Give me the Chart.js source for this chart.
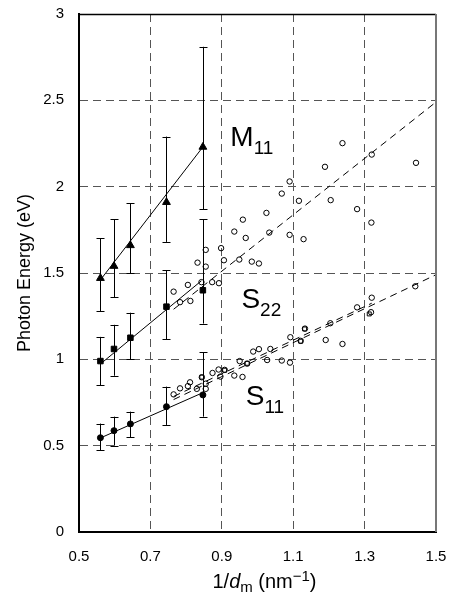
<!DOCTYPE html>
<html>
<head>
<meta charset="utf-8">
<title>Photon energy vs 1/dm</title>
<script src="https://cdn.jsdelivr.net/npm/chart.js@4.4.1/dist/chart.umd.min.js"></script>
<style>
  html, body { margin: 0; padding: 0; background: #fff; }
  #wrap { width: 454px; height: 593px; position: relative; }
</style>
</head>
<body>
<div id="wrap"><canvas id="chart"></canvas></div>
<script>
// axis ticks
const xTicks = [0.5, 0.7, 0.9, 1.1, 1.3, 1.5];
const yTicks = [0, 0.5, 1, 1.5, 2, 2.5, 3];

// measured points with error bars (filled markers)
const xMeas = [0.560, 0.598, 0.644, 0.745, 0.847];
const m11 = [1.47, 1.54, 1.66, 1.91, 2.23];
const m11Hi = [1.70, 1.81, 1.905, 2.29, 2.81];
const m11Lo = [1.28, 1.36, 1.50, 1.68, 1.87];
const s22 = [0.99, 1.06, 1.125, 1.305, 1.40];
const s22Hi = [1.13, 1.20, 1.27, 1.515, 1.81];
const s22Lo = [0.85, 0.905, 1.00, 1.117, 1.207];
const s11 = [0.546, 0.587, 0.626, 0.726, 0.794];
const s11Hi = [0.628, 0.668, 0.697, 0.842, 1.04];
const s11Lo = [0.474, 0.50, 0.549, 0.62, 0.668];

// solid fit lines through the filled markers
const m11FitX = [0.560, 0.847];
const m11FitY = [1.46, 2.23];
const s22FitX = [0.560, 0.843];
const s22FitY = [0.973, 1.455];
const s11FitX = [0.555, 0.847];
const s11FitY = [0.54, 0.807];

// dashed lines
const upperDashX = [0.765, 1.5];
const upperDashY = [1.29, 2.49];
const lowerDashAX = [0.765, 1.5];
const lowerDashAY = [0.767, 1.49];
const lowerDashBX = [0.765, 1.32];
const lowerDashBY = [0.785, 1.325];

// open circles, upper group
const upX = [0.765, 0.783, 0.805, 0.812, 0.832, 0.843, 0.855, 0.855, 0.873, 0.892, 0.898, 0.906, 0.935, 0.949, 0.959, 0.967,
  0.984, 1.004, 1.025, 1.033, 1.068, 1.090, 1.090, 1.116, 1.129, 1.189, 1.205, 1.238, 1.279, 1.319, 1.320, 1.444];
const upY = [1.392, 1.331, 1.431, 1.338, 1.560, 1.447, 1.634, 1.537, 1.447, 1.441, 1.644, 1.574, 1.740, 1.578, 1.809, 1.703,
  1.566, 1.555, 1.848, 1.734, 1.960, 2.030, 1.721, 1.918, 1.696, 2.115, 1.922, 2.252, 1.870, 1.792, 2.186, 2.138];

// open circles, lower group
const loX = [0.765, 0.783, 0.805, 0.811, 0.830, 0.855, 0.855, 0.844, 0.874, 0.891, 0.908, 0.896, 0.935, 0.958, 0.950, 0.971,
  0.988, 1.004, 1.027, 1.036, 1.068, 1.091, 1.092, 1.121, 1.133, 1.191, 1.204, 1.238, 1.279, 1.320, 1.318, 1.442];
const loY = [0.797, 0.832, 0.845, 0.867, 0.829, 0.829, 0.859, 0.896, 0.921, 0.941, 0.939, 0.900, 0.906, 0.898, 0.990, 0.975,
  1.045, 1.059, 0.996, 1.060, 0.993, 0.981, 1.128, 1.107, 1.178, 1.112, 1.209, 1.089, 1.301, 1.357, 1.273, 1.423];

// open squares hidden under some circles
const sqX = [0.844, 0.908, 0.971, 1.121, 1.132, 1.313];
const sqY = [0.897, 0.937, 0.977, 1.105, 1.176, 1.263];

const FONT = '"Liberation Sans", Arial, sans-serif';

function pts(xs, ys) {
  return xs.map((v, i) => ({ x: v, y: ys[i] }));
}

function lineSet(xs, ys, dash) {
  return {
    data: pts(xs, ys), showLine: true, pointRadius: 0,
    borderColor: '#000', borderWidth: 1, borderDash: dash || [], order: 5
  };
}

// error bars drawn with the chart's own scales
const errorBars = {
  id: 'errorBars',
  afterDatasetsDraw(chart) {
    const { ctx, scales: { x, y } } = chart;
    ctx.save();
    ctx.strokeStyle = '#000';
    ctx.lineWidth = 1;
    [[m11Hi, m11Lo], [s22Hi, s22Lo], [s11Hi, s11Lo]].forEach(([hi, lo]) => {
      xMeas.forEach((v, i) => {
        const px = Math.round(x.getPixelForValue(v)) + 0.5;
        const top = y.getPixelForValue(hi[i]);
        const bot = y.getPixelForValue(lo[i]);
        ctx.beginPath();
        ctx.moveTo(px, top); ctx.lineTo(px, bot);
        ctx.moveTo(px - 4, Math.round(top) + 0.5); ctx.lineTo(px + 4, Math.round(top) + 0.5);
        ctx.moveTo(px - 4, Math.round(bot) + 0.5); ctx.lineTo(px + 4, Math.round(bot) + 0.5);
        ctx.stroke();
      });
    });
    ctx.restore();
  }
};

// draw a run of text pieces (normal / italic / sub / sup)
function drawRich(ctx, parts, x, y) {
  let cx = x;
  parts.forEach(p => {
    ctx.font = (p.italic ? 'italic ' : '') + p.size + 'px ' + FONT;
    ctx.fillText(p.t, cx, y + (p.dy || 0));
    cx += ctx.measureText(p.t).width;
  });
}
function richWidth(ctx, parts) {
  let w = 0;
  parts.forEach(p => {
    ctx.font = (p.italic ? 'italic ' : '') + p.size + 'px ' + FONT;
    w += ctx.measureText(p.t).width;
  });
  return w;
}

const bandLabels = [
  { x: 0.924, y: 2.238, main: 'M', sub: '11' },
  { x: 0.955, y: 1.300, main: 'S', sub: '22' },
  { x: 0.967, y: 0.736, main: 'S', sub: '11' }
];

const extras = {
  id: 'extras',
  afterDraw(chart) {
    const { ctx, chartArea: a, scales: { x, y } } = chart;
    ctx.save();
    // top and right frame
    ctx.setLineDash([]);
    ctx.strokeStyle = '#000';
    ctx.lineWidth = 1.5;
    ctx.beginPath();
    ctx.moveTo(a.left, a.top + 0.5); ctx.lineTo(a.right, a.top + 0.5);
    ctx.stroke();
    ctx.strokeStyle = '#777';
    ctx.lineWidth = 2;
    ctx.beginPath();
    ctx.moveTo(a.right, a.top); ctx.lineTo(a.right, a.bottom);
    ctx.stroke();

    ctx.fillStyle = '#000';
    ctx.textBaseline = 'alphabetic';
    ctx.textAlign = 'left';
    bandLabels.forEach(l => {
      drawRich(ctx, [
        { t: l.main, size: 28 },
        { t: l.sub, size: 19, dy: 8 }
      ], x.getPixelForValue(l.x), y.getPixelForValue(l.y));
    });

    // x axis title with italic d, subscript m, superscript -1
    const title = [
      { t: '1/', size: 20 },
      { t: 'd', size: 20, italic: true },
      { t: 'm', size: 15, dy: 4 },
      { t: ' (nm', size: 20 },
      { t: '\u22121', size: 15, dy: -7 },
      { t: ')', size: 20 }
    ];
    const w = richWidth(ctx, title);
    drawRich(ctx, title, (a.left + a.right) / 2 + 7 - w / 2, 588);
    ctx.restore();
  }
};

new Chart(document.getElementById('chart'), {
  type: 'scatter',
  data: {
    datasets: [
      { data: pts(xMeas, m11), pointStyle: 'triangle', pointRadius: 4.5, backgroundColor: '#000', borderColor: '#000', borderWidth: 1, order: 1 },
      { data: pts(xMeas, s22), pointStyle: 'rect', pointRadius: 3.9, backgroundColor: '#000', borderColor: '#000', borderWidth: 1, order: 1 },
      { data: pts(xMeas, s11), pointStyle: 'circle', pointRadius: 3, backgroundColor: '#000', borderColor: '#000', borderWidth: 1, order: 1 },
      lineSet(m11FitX, m11FitY),
      lineSet(s22FitX, s22FitY),
      lineSet(s11FitX, s11FitY),
      lineSet(upperDashX, upperDashY, [7, 5]),
      lineSet(lowerDashAX, lowerDashAY, [7, 5]),
      lineSet(lowerDashBX, lowerDashBY, [7, 5]),
      { data: pts(upX, upY), pointStyle: 'circle', pointRadius: 2.7, backgroundColor: 'rgba(0,0,0,0)', borderColor: '#000', borderWidth: 1, order: 2 },
      { data: pts(loX, loY), pointStyle: 'circle', pointRadius: 2.7, backgroundColor: 'rgba(0,0,0,0)', borderColor: '#000', borderWidth: 1, order: 2 },
      { data: pts(sqX, sqY), pointStyle: 'rect', pointRadius: 2.8, backgroundColor: 'rgba(0,0,0,0)', borderColor: '#000', borderWidth: 1, order: 2 }
    ]
  },
  options: {
    responsive: true,
    maintainAspectRatio: false,
    animation: false,
    layout: { padding: { top: 14, right: 18, left: 0, bottom: 0 } },
    plugins: { legend: { display: false }, tooltip: { enabled: false } },
    scales: {
      x: {
        type: 'linear', min: 0.5, max: 1.5,
        afterBuildTicks: s => { s.ticks = xTicks.map(v => ({ value: v })); },
        // fixed axis height; drop the label overflow padding so the plot keeps its size
        afterFit: s => { s.height = 61; s.paddingLeft = 0; s.paddingRight = 0; },
        ticks: { color: '#000', font: { family: FONT, size: 15 }, padding: 16, callback: v => v.toFixed(1) },
        grid: { color: '#555', lineWidth: 1, drawTicks: false },
        border: { color: '#000', width: 2, dash: [8, 5] }
      },
      y: {
        min: 0, max: 3,
        afterBuildTicks: s => { s.ticks = yTicks.map(v => ({ value: v })); },
        afterFit: s => { s.width = 79; s.paddingTop = 0; s.paddingBottom = 0; },
        ticks: { color: '#000', font: { family: FONT, size: 15 }, padding: 15, callback: v => String(v) },
        grid: { color: '#555', lineWidth: 1, drawTicks: false },
        border: { color: '#000', width: 2, dash: [8, 5] },
        title: { display: true, text: 'Photon Energy (eV)', color: '#000', font: { family: FONT, size: 18 }, padding: { top: 14, bottom: 0 } }
      }
    }
  },
  plugins: [errorBars, extras]
});
</script>
</body>
</html>
